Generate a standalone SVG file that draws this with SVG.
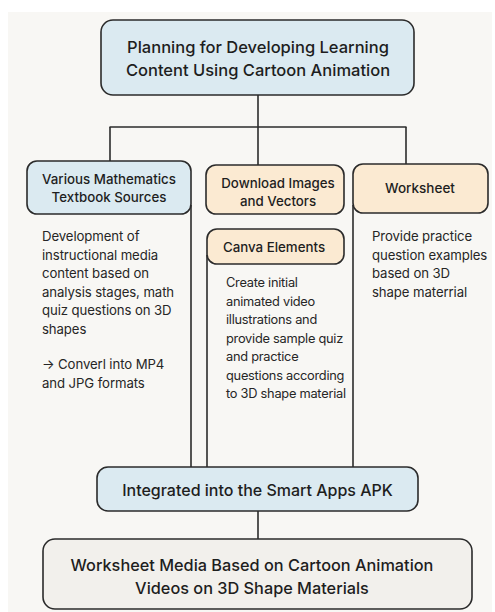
<svg xmlns="http://www.w3.org/2000/svg" width="495" height="612" viewBox="0 0 495 612">
<style>
.box{stroke:#2b2b2b;stroke-width:1.6}
.blue{fill:#dbeaf1}
.beige{fill:#fbead2}
.grey{fill:#f2f0ec}
.t{font-family:Inter,"Liberation Sans",sans-serif;fill:#1e1e1e;text-anchor:middle;font-weight:500}
.b{font-family:Inter,"Liberation Sans",sans-serif;fill:#262626;font-size:13.2px;letter-spacing:-0.1px}
.m{font-size:12.8px;letter-spacing:-0.25px}
.ln{stroke:#2b2b2b;stroke-width:1.6;fill:none}
</style>
<rect x="0" y="0" width="495" height="612" fill="#ffffff"/>
<rect x="8" y="12" width="484" height="600" fill="#f8f7f4"/>
<g id="connectors">
<line class="ln" x1="258" y1="95" x2="258" y2="127"/>
<line class="ln" x1="109.5" y1="127" x2="406.5" y2="127"/>
<line class="ln" x1="110" y1="127" x2="110" y2="161"/>
<line class="ln" x1="258" y1="127" x2="258" y2="165"/>
<line class="ln" x1="406" y1="127" x2="406" y2="164"/>
<line class="ln" x1="191" y1="205" x2="191" y2="467"/>
<line class="ln" x1="207" y1="255" x2="207" y2="467"/>
<line class="ln" x1="353" y1="205" x2="353" y2="467"/>
<line class="ln" x1="258" y1="511" x2="258" y2="539"/>
</g>
<g id="node-planning">
<rect class="box blue" x="101" y="20" width="313" height="75" rx="12"/>
<text class="t" font-size="16.5" x="258" y="53">Planning for Developing Learning</text>
<text class="t" font-size="16.5" x="258" y="76">Content Using Cartoon Animation</text>
</g>
<g id="node-textbook">
<rect class="box blue" x="27" y="161" width="164" height="53" rx="10"/>
<text class="t" font-size="13.3" x="109" y="184">Various Mathematics</text>
<text class="t" font-size="13.3" x="109" y="202">Textbook Sources</text>
</g>
<g id="text-textbook">
<text class="b" x="42" y="241">Development of</text>
<text class="b" x="42" y="259.5">instructional media</text>
<text class="b" x="42" y="278">content based on</text>
<text class="b" x="42" y="296.5">analysis stages, math</text>
<text class="b" x="42" y="315">quiz questions on 3D</text>
<text class="b" x="42" y="333.5">shapes</text>
<text class="b" x="42" y="369">→ Converl into MP4</text>
<text class="b" x="42" y="387.5">and JPG formats</text>
</g>
<g id="node-download">
<rect class="box beige" x="206" y="165" width="138" height="49" rx="10"/>
<text class="t" font-size="13.3" x="278" y="188">Download Images</text>
<text class="t" font-size="13.3" x="278" y="206">and Vectors</text>
</g>
<g id="node-canva">
<rect class="box beige" x="207" y="229" width="137" height="35" rx="10"/>
<text class="t" font-size="13.3" x="274" y="251.5">Canva Elements</text>
</g>
<g id="text-canva">
<text class="b m" x="226" y="287">Create initial</text>
<text class="b m" x="226" y="305.5">animated video</text>
<text class="b m" x="226" y="324">illustrations and</text>
<text class="b m" x="226" y="342.5">provide sample quiz</text>
<text class="b m" x="226" y="361">and practice</text>
<text class="b m" x="226" y="379.5">questions according</text>
<text class="b m" x="226" y="398">to 3D shape material</text>
</g>
<g id="node-worksheet">
<rect class="box beige" x="353" y="164" width="135" height="49" rx="10"/>
<text class="t" font-size="13.5" x="420" y="193">Worksheet</text>
</g>
<g id="text-worksheet">
<text class="b" x="372" y="241">Provide practice</text>
<text class="b" x="372" y="259.5">question examples</text>
<text class="b" x="372" y="278">based on 3D</text>
<text class="b" x="372" y="296.5">shape materrial</text>
</g>
<g id="node-integrated">
<rect class="box blue" x="97" y="467" width="321" height="44" rx="11"/>
<text class="t" font-size="16" x="257.5" y="495.5">Integrated into the Smart Apps APK</text>
</g>
<g id="node-final">
<rect class="box grey" x="43" y="539" width="429" height="70" rx="12"/>
<text class="t" font-size="16.3" x="252" y="571">Worksheet Media Based on Cartoon Animation</text>
<text class="t" font-size="16.3" x="252" y="594">Videos on 3D Shape Materials</text>
</g>
</svg>
